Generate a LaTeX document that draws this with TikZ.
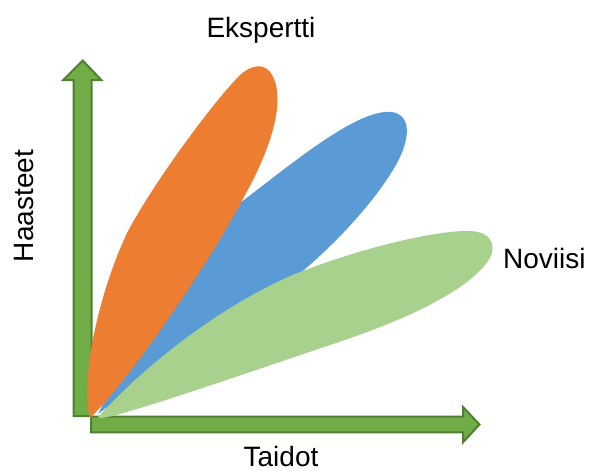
\documentclass[tikz,border=0pt]{standalone}
\usepackage{fontspec}
\setmainfont{Liberation Sans}
\definecolor{axisgreen}{HTML}{70AD47}
\definecolor{axisedge}{HTML}{507E32}
\definecolor{expertorange}{HTML}{ED7D31}
\definecolor{midblue}{HTML}{5B9BD5}
\definecolor{novicegreen}{HTML}{A9D18E}
\tikzset{
  axisarrow/.style={fill=axisgreen,draw=axisedge,line width=2pt,line join=miter},
  labeltext/.style={font=\fontsize{28}{32}\selectfont,inner sep=0pt}
}
\begin{document}
\begin{tikzpicture}[x=1pt,y=-1pt]
	\useasboundingbox (0,0) rectangle (589,471);
	\filldraw[axisarrow] (73.7,416)--(73.7,80)--(63.3,80)--(82.7,60.5)--(101.3,80)--(91.7,80)--(91.7,416)--cycle;
	\filldraw[axisarrow] (91,416.7)--(463,416.7)--(463,407)--(479.5,424.5)--(463,442.3)--(463,432.3)--(91,432.3)--cycle;
	\fill[midblue] (98,414) .. controls (140,330) and (180,250) .. (240,203) .. controls (290,165) and (350,115) .. (385,112) .. controls (405,110) and (412,125) .. (403,150) .. controls (390,185) and (335,248) .. (285,285) .. controls (220,330) and (130,390) .. (98,414);
	\fill[novicegreen] (100,415) .. controls (150,360) and (230,300) .. (300,272) .. controls (370,245) and (440,230) .. (470,231) .. controls (495,232) and (498,250) .. (485,265) .. controls (460,295) and (400,322) .. (330,345) .. controls (250,372) and (140,410) .. (108,417) .. controls (98,419) and (96,418) .. (100,415);
	\fill[expertorange] (90,418) .. controls (80,380) and (98,295) .. (127,233) .. controls (155,180) and (215,100) .. (240,75) .. controls (255,62) and (270,62) .. (276,85) .. controls (282,110) and (270,150) .. (245,195) .. controls (200,280) and (120,390) .. (90,418);
	\node[labeltext,anchor=base] (expert) at (261,37) {Ekspertti};
	\node[labeltext,anchor=base west] (novice) at (503,268) {Noviisi};
	\node[labeltext,anchor=base] (skills) at (281,466) {Taidot};
	\node[labeltext,anchor=base,rotate=90] (challenges) at (34,206) {Haasteet};
\end{tikzpicture}
\end{document}
